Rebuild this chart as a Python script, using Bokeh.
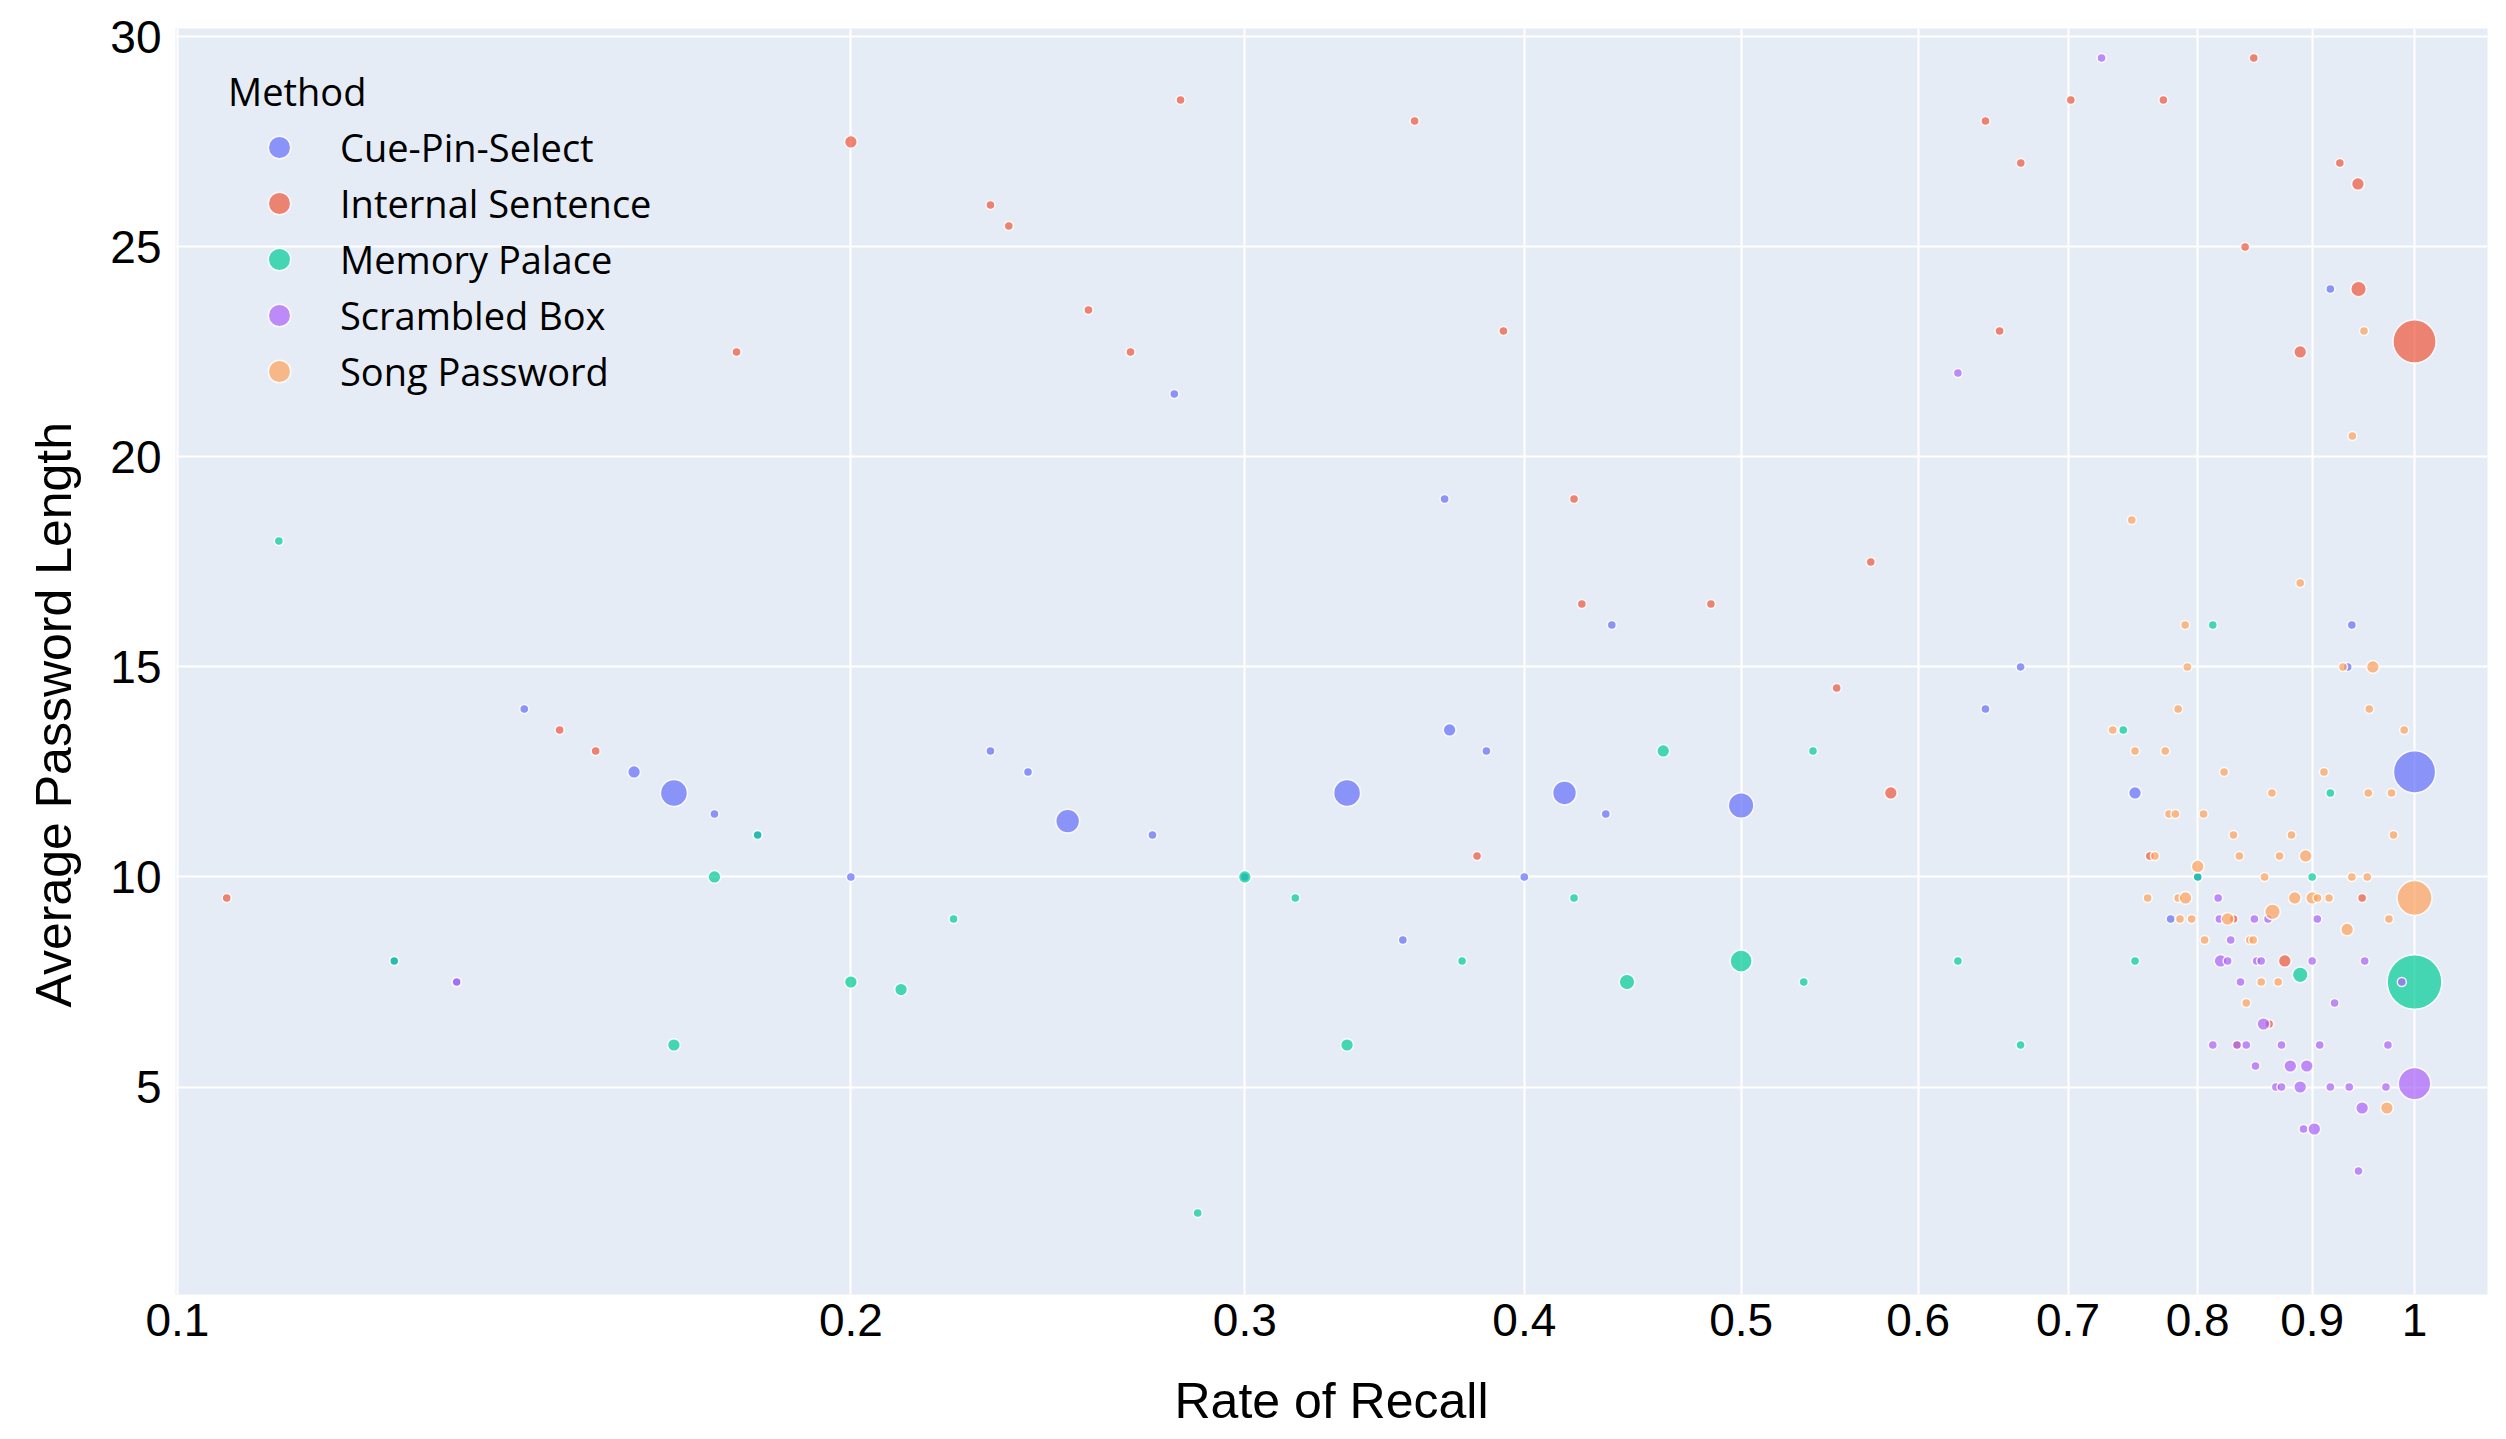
import math
from bokeh.plotting import figure
from bokeh.models import (Range1d, FixedTicker, Legend, LegendItem, Title,
                          ColumnDataSource)
from bokeh.embed import file_html
from bokeh.resources import INLINE

# ---------------- data ----------------
methods = ["Cue-Pin-Select", "Internal Sentence", "Memory Palace", "Scrambled Box", "Song Password"]
colors = ["#636EFA", "#EF553B", "#00CC96", "#AB63FA", "#FFA15A"]

cue_x = [0.1429, 0.16, 0.1667, 0.1738, 0.1817, 0.2, 0.1333, 0.125, 0.2309, 0.24, 0.25, 0.2728,
         0.3, 0.279, 0.3685, 0.4377, 0.3333, 0.3704, 0.3847, 0.4, 0.353, 0.4169, 0.435, 0.5,
         0.6667, 0.643, 0.917, 0.9375, 0.9335, 1.0, 0.75, 0.8, 0.778]
cue_y = [14.0, 12.5, 12.0, 11.5, 11.0, 10.0, 7.5, 8.0, 13.0, 12.5, 11.33, 11.0,
         10.0, 21.5, 19.0, 16.0, 12.0, 13.5, 13.0, 10.0, 8.5, 12.0, 11.5, 11.7,
         15.0, 14.0, 24.0, 16.0, 15.0, 12.5, 12.0, 10.0, 9.0]
cue_n = [1, 2, 9, 1, 1, 1, 1, 1, 1, 1, 7, 1,
         1, 1, 1, 1, 9, 2, 1, 1, 1, 7, 1, 8,
         1, 1, 1, 1, 1, 22, 2, 1, 1]

is_x = [0.2, 0.1778, 0.1482, 0.1538, 0.1052, 0.2808, 0.3573, 0.2309, 0.2353, 0.2554, 0.2667,
        0.3915, 0.421, 0.4244, 0.381, 0.702, 0.643, 0.6668, 0.6524, 0.5714, 0.4847, 0.5517,
        0.5833, 0.8475, 0.7722, 0.926, 0.9434, 0.84, 0.944, 1.0, 0.889, 0.7615, 0.9475,
        0.83, 0.875, 0.861, 0.833]
is_y = [27.5, 22.5, 13.5, 13.0, 9.5, 28.5, 28.0, 26.0, 25.5, 23.5, 22.5,
        23.0, 19.0, 16.5, 10.5, 28.5, 28.0, 27.0, 23.0, 17.5, 16.5, 14.5,
        12.0, 29.5, 28.5, 27.0, 26.5, 25.0, 24.0, 22.75, 22.5, 10.5, 9.5,
        9.0, 8.0, 6.5, 6.0]
is_n = [2, 1, 1, 1, 1, 1, 1, 1, 1, 1, 1,
        1, 1, 1, 1, 1, 1, 1, 1, 1, 1, 1,
        2, 1, 1, 1, 2, 1, 3, 23, 2, 1, 1,
        1, 2, 1, 1]

mp_x = [0.111, 0.1817, 0.1738, 0.125, 0.2, 0.1667, 0.3, 0.316, 0.2223, 0.2106, 0.2858,
        0.3752, 0.3333, 0.4615, 0.421, 0.4446, 0.5384, 0.5, 0.5333, 0.625, 0.6667,
        0.8125, 0.741, 0.917, 0.8, 0.9, 0.75, 1.0, 0.889]
mp_y = [18.0, 11.0, 10.0, 8.0, 7.5, 6.0, 10.0, 9.5, 9.0, 7.32, 2.0,
        8.0, 6.0, 13.0, 9.5, 7.5, 13.0, 8.0, 7.5, 8.0, 6.0,
        16.0, 13.5, 12.0, 10.0, 10.0, 8.0, 7.5, 7.67]
mp_n = [1, 1, 2, 1, 2, 2, 2, 1, 1, 2, 1,
        1, 2, 2, 1, 3, 1, 6, 1, 1, 1,
        1, 1, 1, 1, 1, 1, 37, 3]

sb_x = [0.1333, 0.7246, 0.625, 0.817, 0.818, 0.848, 0.860, 0.9048, 0.8276, 0.819, 0.825,
        0.85, 0.854, 0.9, 0.95, 0.987, 0.836, 0.921, 0.856, 0.8125, 0.833, 0.841, 0.872,
        0.907, 0.973, 0.849, 0.88, 0.895, 0.867, 0.872, 0.889, 0.917, 0.935, 0.971, 1.0,
        0.9475, 0.892, 0.902, 0.944]
sb_y = [7.5, 29.5, 22.0, 9.5, 9.0, 9.0, 9.0, 9.0, 8.5, 8.0, 8.0,
        8.0, 8.0, 8.0, 8.0, 7.5, 7.5, 7.0, 6.5, 6.0, 6.0, 6.0, 6.0,
        6.0, 6.0, 5.5, 5.5, 5.5, 5.0, 5.0, 5.0, 5.0, 5.0, 5.0, 5.08,
        4.5, 4.0, 4.0, 3.0]
sb_n = [1, 1, 1, 1, 1, 1, 1, 1, 1, 2, 1,
        1, 1, 1, 1, 1, 1, 1, 2, 1, 1, 1, 1,
        1, 1, 1, 2, 2, 1, 1, 2, 1, 1, 1, 13,
        2, 1, 2, 1]

sp_x = [0.9493, 0.938, 0.7475, 0.889, 0.7897, 0.7915, 0.929, 0.958, 0.784, 0.9545,
        0.733, 0.9894, 0.750, 0.7737, 0.822, 0.911, 0.8635, 0.9535, 0.9766, 0.7767,
        0.7818, 0.8048, 0.830, 0.881, 0.9786, 0.7655, 0.835, 0.8703, 0.894, 0.80,
        0.857, 0.9375, 0.9525, 0.7598, 0.784, 0.790, 0.884, 0.9, 0.905, 0.9158,
        1.0, 0.864, 0.7855, 0.795, 0.825, 0.974, 0.933, 0.8057, 0.844, 0.847,
        0.854, 0.869, 0.841, 0.972]
sp_y = [23.0, 20.5, 18.5, 17.0, 16.0, 15.0, 15.0, 15.0, 14.0, 14.0,
        13.5, 13.5, 13.0, 13.0, 12.5, 12.5, 12.0, 12.0, 12.0, 11.5,
        11.5, 11.5, 11.0, 11.0, 11.0, 10.5, 10.5, 10.5, 10.5, 10.25,
        10.0, 10.0, 10.0, 9.5, 9.5, 9.5, 9.5, 9.5, 9.5, 9.5,
        9.5, 9.17, 9.0, 9.0, 9.0, 9.0, 8.75, 8.5, 8.5, 8.5,
        7.5, 7.5, 7.0, 4.5]
sp_n = [1, 1, 1, 1, 1, 1, 1, 2, 1, 1,
        1, 1, 1, 1, 1, 1, 1, 1, 1, 1,
        1, 1, 1, 1, 1, 1, 1, 1, 2, 2,
        1, 1, 1, 1, 1, 2, 2, 2, 1, 1,
        15, 3, 1, 1, 2, 1, 2, 1, 1, 1,
        1, 1, 1, 2]

x_ticks = [0.1, 0.2, 0.3, 0.4, 0.5, 0.6, 0.7, 0.8, 0.9, 1.0]
x_tick_labels = ["0.1", "0.2", "0.3", "0.4", "0.5", "0.6", "0.7", "0.8", "0.9", "1"]
y_ticks = [5, 10, 15, 20, 25, 30]
x_title = "Rate of Recall"
y_title = "Average Password Length"

series = [(cue_x, cue_y, cue_n), (is_x, is_y, is_n), (mp_x, mp_y, mp_n),
          (sb_x, sb_y, sb_n), (sp_x, sp_y, sp_n)]

# ---------------- figure ----------------
AXIS_FONT = "Liberation Sans"
LEG_FONT = "Open Sans"

p = figure(width=2498, height=1431, frame_width=2312, frame_height=1266,
           x_axis_type="log", x_range=Range1d(0.0998, 1.078), y_range=Range1d(0.06, 30.2),
           output_backend="svg", toolbar_location=None,
           min_border_left=175, min_border_right=11, min_border_top=28, min_border_bottom=137)
p.background_fill_color = "#E5ECF6"
p.border_fill_color = "white"
p.outline_line_color = None

p.xaxis.ticker = FixedTicker(ticks=x_ticks, minor_ticks=[])
p.xaxis.major_label_overrides = {t: l for t, l in zip(x_ticks, x_tick_labels)}
p.yaxis.ticker = FixedTicker(ticks=y_ticks, minor_ticks=[])

for ax in (p.xaxis, p.yaxis):
    ax.axis_line_color = None
    ax.major_tick_line_color = None
    ax.minor_tick_line_color = None
    ax.major_tick_out = 0
    ax.major_tick_in = 0
    ax.major_label_text_font = AXIS_FONT
    ax.major_label_text_font_size = "46px"
    ax.major_label_text_color = "black"
    ax.axis_label_text_font = AXIS_FONT
    ax.axis_label_text_font_size = "50px"
    ax.axis_label_text_font_style = "normal"
    ax.axis_label_text_color = "black"

p.xaxis.major_label_standoff = 9
p.xaxis.axis_label = x_title
p.xaxis.axis_label_standoff = 34
p.yaxis.major_label_standoff = 14

p.xgrid.grid_line_color = "white"
p.ygrid.grid_line_color = "white"
p.xgrid.grid_line_width = 2
p.ygrid.grid_line_width = 2

ytitle = Title(text=y_title, align="left", offset=287, vertical_align="top",
               standoff=48, text_line_height=1.0, text_font=AXIS_FONT,
               text_font_size="50px", text_font_style="normal", text_color="black")
p.add_layout(ytitle, "left")

items = []
for name, col, (xs, ys, ns) in zip(methods, colors, series):
    src = ColumnDataSource(dict(x=xs, y=ys, n=ns, s=[9.0 * math.sqrt(v) for v in ns]))
    r = p.scatter("x", "y", size="s", source=src, fill_color=col, fill_alpha=0.7,
                  line_color="white", line_width=1.5, line_alpha=0.9)
    items.append(LegendItem(label=name, renderers=[r]))

legend = Legend(items=items, location=(53, 895), title="Method",
                title_text_font=LEG_FONT, title_text_font_size="38px",
                title_text_font_style="normal", title_text_color="black",
                title_standoff=2,
                label_text_font=LEG_FONT, label_text_font_size="38px",
                label_text_color="black",
                glyph_width=102, glyph_height=56, label_height=56, spacing=0,
                label_standoff=10, padding=0, margin=0,
                background_fill_alpha=0, border_line_alpha=0)
p.add_layout(legend, "center")

open("out.html", "w").write(file_html(p, INLINE))
